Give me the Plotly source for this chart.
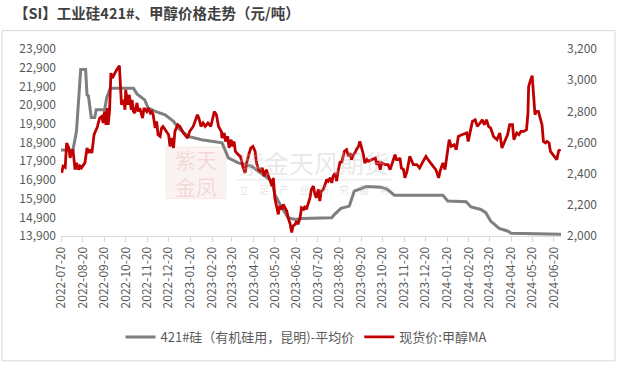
import plotly.graph_objects as go

# ---------------- data ----------------
si_dates = ["2022-07-20", "2022-08-06", "2022-08-11", "2022-08-15", "2022-08-17", "2022-08-24",
            "2022-08-26", "2022-08-28", "2022-09-01", "2022-09-06", "2022-09-08", "2022-09-20",
            "2022-09-23", "2022-09-28", "2022-10-31", "2022-11-05", "2022-11-16", "2022-11-21",
            "2022-12-01", "2022-12-15", "2022-12-27", "2023-01-03", "2023-01-17", "2023-02-05",
            "2023-03-06", "2023-03-15", "2023-03-29", "2023-04-17", "2023-04-27", "2023-05-06",
            "2023-05-16", "2023-05-20", "2023-05-30", "2023-06-08", "2023-06-18", "2023-06-27",
            "2023-08-09", "2023-08-13", "2023-08-22", "2023-09-03", "2023-09-10", "2023-09-20",
            "2023-09-27", "2023-10-18", "2023-10-27", "2023-11-06", "2024-01-14", "2024-01-21",
            "2024-02-16", "2024-02-23", "2024-03-08", "2024-03-15", "2024-03-22", "2024-04-03",
            "2024-04-15", "2024-04-20", "2024-05-14", "2024-05-18", "2024-06-30"]
si_values = [18500, 18500, 19500, 21500, 22800, 22800,
             21450, 21400, 20240, 20240, 20650, 20650,
             21300, 21800, 21800, 21500, 21180, 20740,
             20560, 20380, 20030, 19670, 19230, 19050,
             18880, 18080, 17810, 17630, 17360, 17100,
             16830, 16120, 15410, 14880, 14790, 14840,
             14880, 15060, 15380, 15500, 16300, 16440,
             16550, 16510, 16390, 16080, 16080, 15770,
             15730, 15450, 15320, 15150, 14700, 14310,
             14170, 14050, 14030, 13990, 13990]

ma_dates = ["2022-07-21", "2022-07-23", "2022-07-26", "2022-07-28", "2022-07-31", "2022-08-02",
            "2022-08-04", "2022-08-06", "2022-08-09", "2022-08-11", "2022-08-14", "2022-08-16",
            "2022-08-18", "2022-08-23", "2022-08-26", "2022-08-28", "2022-08-30", "2022-09-02",
            "2022-09-05", "2022-09-07", "2022-09-10", "2022-09-11", "2022-09-13", "2022-09-16",
            "2022-09-18", "2022-09-20", "2022-09-22", "2022-09-24", "2022-09-25", "2022-09-27",
            "2022-09-29", "2022-10-01", "2022-10-04", "2022-10-07", "2022-10-11", "2022-10-13",
            "2022-10-14", "2022-10-17", "2022-10-19", "2022-10-20", "2022-10-23", "2022-10-25",
            "2022-10-28", "2022-10-29", "2022-10-31", "2022-11-02", "2022-11-05", "2022-11-07",
            "2022-11-09", "2022-11-13", "2022-11-15", "2022-11-19", "2022-11-21", "2022-11-24",
            "2022-11-26", "2022-11-28", "2022-12-01", "2022-12-03", "2022-12-05", "2022-12-08",
            "2022-12-10", "2022-12-12", "2022-12-15", "2022-12-20", "2022-12-22", "2022-12-24",
            "2022-12-27", "2022-12-29", "2023-01-02", "2023-01-05", "2023-01-10", "2023-01-16",
            "2023-01-19", "2023-01-24", "2023-01-30", "2023-02-01", "2023-02-04", "2023-02-07",
            "2023-02-10", "2023-02-14", "2023-02-18", "2023-02-20", "2023-02-23", "2023-02-26",
            "2023-03-01", "2023-03-05", "2023-03-06", "2023-03-09", "2023-03-11", "2023-03-14",
            "2023-03-16", "2023-03-19", "2023-03-21", "2023-03-23", "2023-03-25", "2023-03-29",
            "2023-04-01", "2023-04-03", "2023-04-05", "2023-04-08", "2023-04-10", "2023-04-13",
            "2023-04-16", "2023-04-19", "2023-04-22", "2023-04-24", "2023-04-27", "2023-04-29",
            "2023-05-02", "2023-05-05", "2023-05-08", "2023-05-11", "2023-05-13", "2023-05-16",
            "2023-05-18", "2023-05-20", "2023-05-23", "2023-05-25", "2023-05-27", "2023-05-30",
            "2023-06-01", "2023-06-04", "2023-06-06", "2023-06-08", "2023-06-11", "2023-06-13",
            "2023-06-15", "2023-06-18", "2023-06-20", "2023-06-22", "2023-06-25", "2023-06-27",
            "2023-06-30", "2023-07-02", "2023-07-04", "2023-07-09", "2023-07-11", "2023-07-14",
            "2023-07-16", "2023-07-18", "2023-07-21", "2023-07-23", "2023-07-25", "2023-07-28",
            "2023-07-30", "2023-08-02", "2023-08-04", "2023-08-07", "2023-08-09", "2023-08-11",
            "2023-08-14", "2023-08-16", "2023-08-18", "2023-08-21", "2023-08-23", "2023-08-27",
            "2023-08-30", "2023-09-02", "2023-09-04", "2023-09-06", "2023-09-09", "2023-09-11",
            "2023-09-13", "2023-09-16", "2023-09-18", "2023-09-21", "2023-09-23", "2023-09-25",
            "2023-09-28", "2023-09-30", "2023-10-05", "2023-10-10", "2023-10-12", "2023-10-14",
            "2023-10-17", "2023-10-19", "2023-10-24", "2023-10-28", "2023-10-31", "2023-11-02",
            "2023-11-07", "2023-11-09", "2023-11-12", "2023-11-14", "2023-11-16", "2023-11-19",
            "2023-11-21", "2023-11-24", "2023-11-26", "2023-11-28", "2023-12-01", "2023-12-03",
            "2023-12-08", "2023-12-12", "2023-12-17", "2023-12-21", "2023-12-24", "2023-12-27",
            "2023-12-31", "2024-01-04", "2024-01-08", "2024-01-10", "2024-01-14", "2024-01-17",
            "2024-01-20", "2024-01-23", "2024-01-26", "2024-01-30", "2024-02-02", "2024-02-05",
            "2024-02-10", "2024-02-17", "2024-02-19", "2024-02-22", "2024-02-25", "2024-02-29",
            "2024-03-03", "2024-03-07", "2024-03-10", "2024-03-13", "2024-03-16", "2024-03-19",
            "2024-03-22", "2024-03-26", "2024-03-28", "2024-03-31", "2024-04-04", "2024-04-07",
            "2024-04-10", "2024-04-15", "2024-04-18", "2024-04-22", "2024-04-24", "2024-04-28",
            "2024-05-01", "2024-05-04", "2024-05-08", "2024-05-12", "2024-05-14", "2024-05-15",
            "2024-05-17", "2024-05-20", "2024-05-22", "2024-05-24", "2024-05-26", "2024-05-29",
            "2024-06-01", "2024-06-03", "2024-06-05", "2024-06-08", "2024-06-10", "2024-06-13",
            "2024-06-15", "2024-06-17", "2024-06-20", "2024-06-22", "2024-06-24", "2024-06-27",
            "2024-06-29"]
ma_values = [2405, 2448, 2440, 2597, 2565, 2501,
             2543, 2554, 2426, 2469, 2426, 2448,
             2437, 2469, 2565, 2533, 2554, 2533,
             2650, 2671, 2703, 2725, 2757, 2767,
             2725, 2799, 2714, 2821, 2714, 2799,
             3045, 3013, 3045, 3066, 3093, 2906,
             2842, 2874, 2810, 2938, 2842, 2906,
             2810, 2874, 2799, 2789, 2853, 2799,
             2821, 2757, 2821, 2799, 2821, 2789,
             2799, 2778, 2693, 2735, 2650, 2639,
             2693, 2703, 2682, 2650, 2575, 2629,
             2565, 2671, 2714, 2703, 2661, 2629,
             2671, 2703, 2778, 2757, 2703, 2725,
             2703, 2725, 2703, 2735, 2799, 2778,
             2703, 2671, 2629, 2661, 2607, 2639,
             2565, 2618, 2575, 2607, 2543, 2522,
             2511, 2479, 2437, 2405, 2469, 2522,
             2565, 2575, 2543, 2469, 2426, 2415,
             2437, 2384, 2426, 2384, 2363, 2320,
             2373, 2245, 2181, 2139, 2192, 2171,
             2203, 2181, 2160, 2118, 2075, 2022,
             2064, 2075, 2096, 2075, 2118, 2181,
             2171, 2192, 2171, 2245, 2299, 2320,
             2267, 2245, 2299, 2224, 2288, 2299,
             2331, 2363, 2352, 2373, 2341, 2384,
             2405, 2352, 2415, 2479, 2469, 2543,
             2554, 2511, 2533, 2490, 2522, 2533,
             2554, 2575, 2607, 2565, 2522, 2469,
             2490, 2480, 2490, 2501, 2458, 2480,
             2426, 2469, 2458, 2458, 2426, 2458,
             2522, 2490, 2490, 2501, 2437, 2426,
             2373, 2415, 2458, 2511, 2480, 2458,
             2458, 2437, 2480, 2511, 2490, 2469,
             2448, 2426, 2373, 2415, 2469, 2426,
             2533, 2618, 2575, 2586, 2554, 2639,
             2650, 2661, 2607, 2667, 2735, 2746,
             2703, 2725, 2746, 2714, 2746, 2703,
             2693, 2639, 2630, 2618, 2661, 2565,
             2597, 2650, 2714, 2714, 2618, 2661,
             2650, 2671, 2671, 2682, 2789, 2959,
             2990, 3029, 2906, 2778, 2800, 2799,
             2746, 2714, 2607, 2597, 2607, 2597,
             2543, 2533, 2511, 2501, 2490, 2554,
             2543]

si_name = "421#硅（有机硅用，昆明)-平均价"
ma_name = "现货价:甲醇MA"
title_text = "【SI】工业硅421#、甲醇价格走势（元/吨）"

left_ticks = list(range(13900, 23901, 1000))
right_ticks = list(range(2000, 3201, 200))

# ---------------- layout helpers (pixel -> paper) ----------------
L, R, T, B = 61, 561, 48.5, 236.5
W, H = 617, 366


def px(x):
    return (x - L) / (R - L)


def py(y):
    return (B - y) / (B - T)


FONT = "Noto Sans CJK SC"
TICK_COLOR = "#595959"

fig = go.Figure()
fig.add_trace(go.Scatter(x=si_dates, y=si_values, name=si_name, mode="lines",
                         line=dict(color="#7f7f7f", width=3), yaxis="y"))
fig.add_trace(go.Scatter(x=ma_dates, y=ma_values, name=ma_name, mode="lines",
                         line=dict(color="#c00000", width=2.8), yaxis="y2"))

shapes = [
    # outer frame
    dict(type="rect", xref="paper", yref="paper", x0=px(2), x1=px(615), y0=py(362), y1=py(30),
         line=dict(color="#d9d9d9", width=1), fillcolor="rgba(0,0,0,0)", layer="below"),
    # watermark stamp
    dict(type="rect", xref="paper", yref="paper", x0=px(166), x1=px(226), y0=py(199), y1=py(147),
         line=dict(color="rgba(200,80,80,0.08)", width=1), fillcolor="rgba(210,90,90,0.08)", layer="below"),
    # watermark underline
    dict(type="line", xref="paper", yref="paper", x0=px(236), x1=px(392), y0=py(180), y1=py(180),
         line=dict(color="rgba(200,200,200,0.3)", width=1.5), layer="below"),
]

annotations = [
    dict(text="紫天<br>金凤", xref="paper", yref="paper", x=px(196), y=py(173), showarrow=False,
         font=dict(family=FONT, size=21, color="rgba(200,70,70,0.16)"), xanchor="center", yanchor="middle"),
    dict(text="紫金天风期货", xref="paper", yref="paper", x=px(314), y=py(162), showarrow=False,
         font=dict(family=FONT, size=25, color="rgba(190,190,190,0.35)"), xanchor="center", yanchor="middle"),
    dict(text="立　足　产　业　研　究　服　务", xref="paper", yref="paper", x=px(314), y=py(190), showarrow=False,
         font=dict(family=FONT, size=10, color="rgba(190,190,190,0.4)"), xanchor="center", yanchor="middle"),
]

fig.update_layout(
    width=W, height=H,
    margin=dict(l=L, r=W - R, t=T, b=H - B, autoexpand=False),
    paper_bgcolor="white", plot_bgcolor="white",
    font=dict(family=FONT, size=12, color=TICK_COLOR),
    title=dict(text="<b>" + title_text + "</b>", x=14 / W, xanchor="left", y=1 - 14 / H, yanchor="middle",
               xref="container", yref="container",
               font=dict(family=FONT, size=14.5, color="#404040")),
    showlegend=True,
    legend=dict(orientation="h", x=306 / W, xanchor="center", xref="container",
                y=1 - 337 / H, yanchor="middle", yref="container",
                font=dict(family=FONT, size=13, color=TICK_COLOR), bgcolor="rgba(0,0,0,0)",
                itemwidth=30, tracegroupgap=0),
    xaxis=dict(type="date", range=["2022-07-20", "2024-06-30"], tick0="2022-07-20", dtick="M1",
               tickformat="%Y-%m-%d", tickangle=-90, showgrid=False, zeroline=False, automargin=False,
               showline=True, linecolor="#d9d9d9", linewidth=1, ticks="outside", ticklen=5,
               tickcolor="#d9d9d9", tickfont=dict(family=FONT, size=12, color=TICK_COLOR)),
    yaxis=dict(range=[13900, 23900], tickvals=left_ticks, ticktext=[f"{v:,}" for v in left_ticks],
               showgrid=False, zeroline=False, showline=False, ticks="", automargin=False,
               ticklabelstandoff=4, tickfont=dict(family=FONT, size=12, color=TICK_COLOR)),
    yaxis2=dict(range=[2000, 3200], tickvals=right_ticks, ticktext=[f"{v:,}" for v in right_ticks],
                overlaying="y", side="right", showgrid=False, zeroline=False, showline=False, ticks="",
                automargin=False, ticklabelstandoff=5, tickfont=dict(family=FONT, size=12, color=TICK_COLOR)),
    shapes=shapes,
    annotations=annotations,
)

fig.write_html("out.html", config={"displayModeBar": False},
               post_script="document.body.style.margin='0';")
